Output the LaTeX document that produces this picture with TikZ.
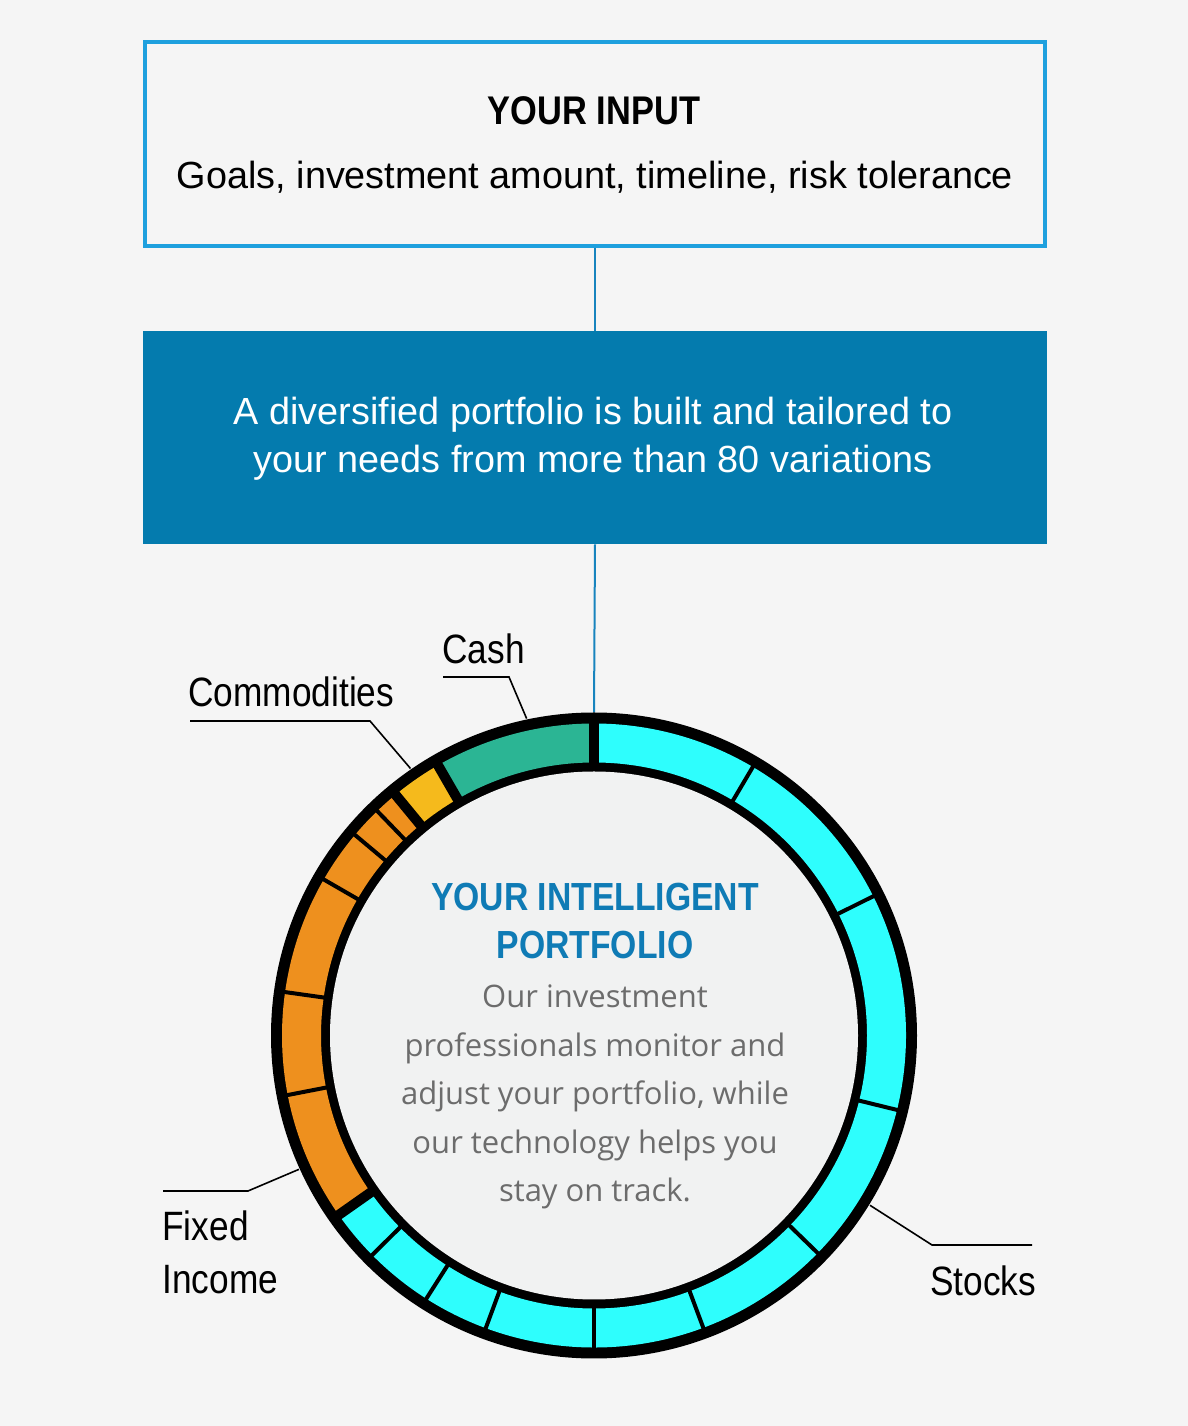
\documentclass[tikz,border=0pt]{standalone}
\usepackage{fontspec}
\setmainfont{Liberation Sans}
\newfontfamily\condfont[FakeStretch=0.86]{Liberation Sans}
\newfontfamily\bodyfont{Open Sans}
\usepackage{tikz}
\usetikzlibrary{calc}
\usetikzlibrary{positioning}
\definecolor{bgcol}{RGB}{245,245,245}
\definecolor{inputblue}{RGB}{30,160,222}
\definecolor{buildblue}{RGB}{4,123,174}
\definecolor{linkblue}{RGB}{24,132,190}
\definecolor{titleblue}{RGB}{15,123,181}
\definecolor{bodygray}{RGB}{108,108,108}
\definecolor{innergray}{RGB}{241,242,242}
\definecolor{cashgreen}{RGB}{43,181,148}
\definecolor{commyellow}{RGB}{245,186,28}
\definecolor{fixedorange}{RGB}{238,144,30}
\definecolor{stockcyan}{RGB}{46,254,253}
\tikzstyle{inbox}=[draw=inputblue,line width=2pt,fill=bgcol,minimum width=450pt,minimum height=102pt,inner sep=0pt]
\tikzstyle{buildbox}=[fill=buildblue,minimum width=452pt,minimum height=106.5pt,inner sep=0pt]
\tikzstyle{link}=[draw=linkblue,line width=1pt]
\tikzstyle{leader}=[draw=black,line width=0.8pt]
\tikzstyle{lbl}=[inner sep=0pt,anchor=base west,font=\fontsize{20.5}{24}\condfont]
\tikzstyle{boxtxt}=[inner sep=0pt,anchor=base,font=\fontsize{18.9}{22}\selectfont]
\tikzstyle{titletxt}=[inner sep=0pt,anchor=base,text=titleblue,font=\fontsize{19.6}{22}\condfont\bfseries]
\tikzstyle{bodytxt}=[inner sep=0pt,anchor=base,text=bodygray,font=\fontsize{15.5}{18}\bodyfont]
\tikzstyle{thinsep}=[line width=2pt,black]
\tikzstyle{thicksep}=[line width=5pt,black]

\begin{document}
\begin{tikzpicture}[x=0.5pt,y=0.5pt]
\useasboundingbox (0,0) rectangle (1188,1426);
\fill[bgcol] (0,0) rectangle (1188,1426);

% the two boxes on top
\node[inbox] (input) at (595,1282) {};
\node[boxtxt,font=\fontsize{20}{22}\condfont\bfseries] (inputhead) at (594,1301) {YOUR INPUT};
\node[boxtxt] (inputtxt) at (595,1237) {Goals, investment amount, timeline, risk tolerance};
\node[buildbox] (build) at (595,988.5) {};
\node[boxtxt,text=white] (build1) at (593,1001) {A diversified portfolio is built and tailored to};
\node[boxtxt,text=white] (build2) at (593,953) {your needs from more than 80 variations};

% ring
\coordinate (ring) at (594,390.5);
\coordinate (ringtop) at ($(ring)+(0,323)$);
\draw[link] (input.south) -- (build.north);
\draw[link] (build.south) -- (ringtop);
\fill[black] (ring) circle[radius=323];
\foreach \a/\b/\c in {90/120/cashgreen,120/129.5/commyellow,129.5/215.1/fixedorange,215.1/450/stockcyan}
  \fill[\c] ($(ring)+(\a:312)$) arc[start angle=\a,end angle=\b,radius=312]
    -- ($(ring)+(\b:273)$) arc[start angle=\b,end angle=\a,radius=273] -- cycle;
\foreach \a in {134,140,150,172,191,224.7,237.5,249.7,270,290.5,315.8,346.2,386.5,419.4}
  \draw[thinsep] ($(ring)+(\a:262)$) -- ($(ring)+(\a:318)$);
\foreach \a in {90,120,129.5,215.1}
  \draw[thicksep] ($(ring)+(\a:262)$) -- ($(ring)+(\a:318)$);
\fill[innergray] (ring) circle[radius=264];

% text in the middle
\node[titletxt] (title1) at (595,515) {YOUR INTELLIGENT};
\node[titletxt] (title2) at (595,467) {PORTFOLIO};
\foreach \txt [count=\i] in {Our investment,professionals monitor and,{adjust your portfolio, while},our technology helps you,stay on track.}
  \node[bodytxt] (body\i) at (595,466.5-48.5*\i) {\txt};

% labels
\node[lbl] (cash) at (442,762) {Cash};
\node[lbl] (comm) at (188,719) {Commodities};
\node[lbl] (fixed) at (162,185) {Fixed};
\node[lbl] (income) at (162,132) {Income};
\node[lbl] (stocks) at (930,130) {Stocks};
\coordinate (cashend) at ($(ring)+(102:324)$);
\coordinate (commend) at ($(ring)+(124.5:324)$);
\coordinate (fixedend) at ($(ring)+(204.4:324)$);
\coordinate (stocksend) at ($(ring)+(328.4:324)$);
\draw[leader] ([yshift=-6.5pt,xshift=0.5pt]cash.base west) -- ++(66,0) -- (cashend);
\draw[leader] ([yshift=-7pt,xshift=1pt]comm.base west) -- ++(180,0) -- (commend);
\draw[leader] ([yshift=25pt,xshift=0.5pt]fixed.base west) -- ++(85,0) -- (fixedend);
\draw[leader] (stocksend) -- ([yshift=25.5pt,xshift=1pt]stocks.base west) -- ++(100,0);
\end{tikzpicture}
\end{document}
